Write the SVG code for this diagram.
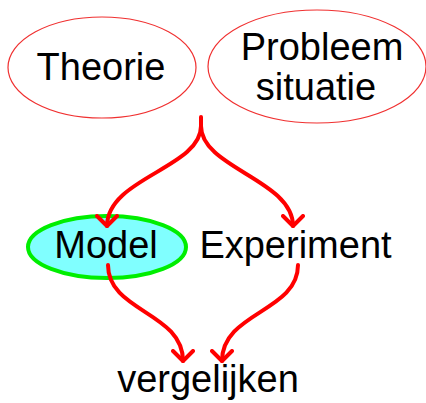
<svg xmlns="http://www.w3.org/2000/svg" width="426" height="403" viewBox="0 0 426 403">
<style>
text{font-family:"Liberation Sans",Arial,sans-serif;font-size:38px;fill:#000;text-anchor:middle}
.top{fill:#fff;stroke:#f03030;stroke-width:1.2}
.c{fill:none;stroke:#ff0000;stroke-width:4;stroke-linecap:round;stroke-linejoin:round}
</style>
<defs>
<marker id="ah" viewBox="-12 -12 14 24" markerWidth="14" markerHeight="24" refX="0" refY="0" orient="auto" markerUnits="userSpaceOnUse">
<path d="M-10,-10 L0,0 L-10,10" fill="none" stroke="#ff0000" stroke-width="4" stroke-linecap="round" stroke-linejoin="round"/>
</marker>
</defs>
<rect width="426" height="403" fill="#fff"/>
<g id="theorie">
<ellipse class="top" cx="102" cy="67.5" rx="94" ry="50.5"/>
<text x="101" y="80">Theorie</text>
</g>
<g id="probleemsituatie">
<ellipse class="top" cx="317" cy="66.5" rx="109" ry="56.5"/>
<text x="322" y="60">Probleem</text>
<text x="316" y="100">situatie</text>
</g>
<g id="model">
<ellipse cx="107" cy="247" rx="79" ry="31" fill="#80ffff" stroke="#00ee00" stroke-width="4"/>
<text x="106" y="258">Model</text>
</g>
<g id="experiment">
<text x="295.5" y="258">Experiment</text>
</g>
<g id="vergelijken">
<text x="208" y="392">vergelijken</text>
</g>
<g id="connectors">
<path class="c" d="M201,117 V126" stroke-width="5"/>
<path class="c" d="M201,126 C201,168 107,178 107,226" marker-end="url(#ah)"/>
<path class="c" d="M201,126 C201,168 293,180 293,226" marker-end="url(#ah)"/>
<path class="c" d="M108,265 C108,312 183,312 183,361" marker-end="url(#ah)"/>
<path class="c" d="M298,265 C298,312 222,312 222,361" marker-end="url(#ah)"/>
</g>
</svg>
